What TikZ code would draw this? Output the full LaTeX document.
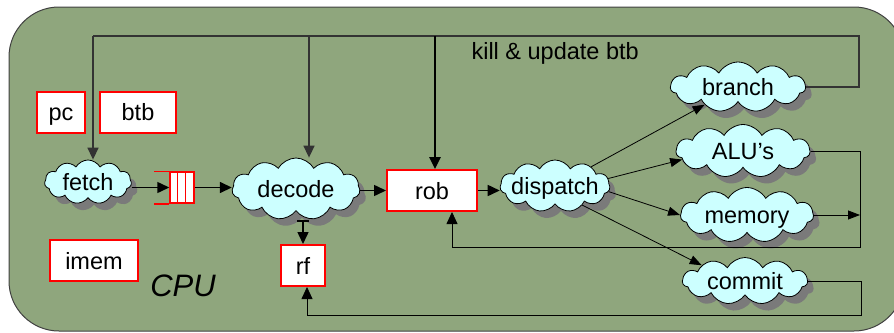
\documentclass[tikz,border=0pt]{standalone}
\usepackage{fontspec}
\setmainfont{Liberation Sans}
\usepackage{xcolor}
\usepackage{tikz}
\usetikzlibrary{shapes.symbols,shadows,arrows.meta,positioning}
\definecolor{cpugreen}{RGB}{143,166,125}
\definecolor{cloudcyan}{RGB}{204,255,255}
\tikzstyle{unit} = [cloud, cloud puffs=11, cloud puff arc=120, cloud ignores aspect, draw=black, line width=0.8pt, fill=cloudcyan, inner sep=0pt, text height=17pt, text depth=0pt, drop shadow={shadow xshift=6pt, shadow yshift=-7pt, fill=black!52, opacity=1}]
\tikzstyle{storage} = [rectangle, draw=red, line width=2pt, fill=white, inner sep=0pt, text height=17pt, text depth=0pt, minimum height=41pt]
\tikzstyle{arrow} = [line width=1.5pt,-{Triangle[length=12pt,width=11pt]}]
\tikzstyle{thinarrow} = [line width=0.8pt,-{Triangle[length=12pt,width=9pt]}]
\tikzstyle{feed} = [line width=0.8pt]

\begin{document}
\begin{tikzpicture}[x=1pt,y=-1pt,every node/.style={font=\fontsize{23.5}{28}\selectfont}]

	\useasboundingbox (0,0) rectangle (894,332);
	\clip (0,0) rectangle (894,332);
	\draw [fill=cpugreen, draw=black!75, line width=1pt, rounded corners=50pt] (9,7) rectangle (904,331);

	\node (pc) [storage, minimum width=48pt] at (61,112) {pc};
	\node (btb) [storage, minimum width=76pt, right=13pt of pc] {btb};
	\node (imem) [storage, minimum width=88pt] at (94,260.5) {imem};
	\node (rob) [storage, minimum width=90pt] at (432,190.5) {rob};
	\node (rf) [storage, minimum width=44pt] at (303,265.5) {rf};
	\node (cpu) at (183,286) {\fontsize{31}{36}\selectfont\itshape CPU};
	\node (kill) [anchor=west] at (468,53) {kill \& update btb};

	\node (fetch) [unit, minimum width=87pt, minimum height=44pt] at (88,182) {\makebox[0pt]{fetch}};
	\node (decode) [unit, minimum width=128pt, minimum height=62pt] at (296,189) {\makebox[0pt]{decode}};
	\node (dispatch) [unit, minimum width=110pt, minimum height=52pt] at (555,186) {\makebox[0pt]{dispatch}};
	\node (branch) [unit, minimum width=135pt, minimum height=50pt] at (738,87) {\makebox[0pt]{branch}};
	\node (alus) [unit, minimum width=134pt, minimum height=53pt] at (743,151) {\makebox[0pt]{ALU’s}};
	\node (memory) [unit, minimum width=133pt, minimum height=55pt] at (747,215) {\makebox[0pt]{memory}};
	\node (commit) [unit, minimum width=125pt, minimum height=47pt] at (745,281) {\makebox[0pt]{commit}};

	\node (queue) [rectangle, draw=red, line width=1.5pt, fill=white, minimum width=24pt, minimum height=31pt, inner sep=0pt] at (182,187.5) {};
	\draw [red, line width=1.5pt] ([xshift=8pt]queue.north west) -- ([xshift=8pt]queue.south west);
	\draw [red, line width=1.5pt] ([xshift=16pt]queue.north west) -- ([xshift=16pt]queue.south west);
	\draw [red, line width=1.5pt] ([xshift=-15pt]queue.north west) -- (queue.north west);
	\draw [red, line width=1.5pt] ([xshift=-15pt]queue.south west) -- (queue.south west);

	\coordinate (tf) at (93,36);
	\coordinate (td) at (309,36);
	\coordinate (tr) at (435,36);
	\coordinate (kr) at (859,36);
	\coordinate (fbr) at (860,247);
	\coordinate (rb) at (452,247);
	\coordinate (cr) at (861,315);
	\coordinate (cl) at (307,315);

	\draw [line width=1.5pt, draw=black!80] (branch.east) -| (kr) -- (tf);
	\draw [arrow, draw=black!80] (tf) -- (tf |- fetch.north);
	\draw [arrow, draw=black!80] (td) -- (td |- decode.north);
	\draw [arrow, line width=2.5pt] (tr) -- (tr |- rob.north);

	\draw [arrow] (fetch.east |- queue) -- (queue.west);
	\draw [arrow] (queue.east) -- (queue.east -| decode.west);
	\draw [arrow] (decode.east |- rob) -- (rob.west);
	\draw [arrow] (rob.east) -- (rob.east -| dispatch.west);
	\draw [line width=1.5pt,{Bar[width=12pt]}-{Triangle[length=12pt,width=11pt]}] ([yshift=-9pt]rf.north |- decode.south) -- (rf.north);

	\draw [thinarrow] (dispatch.28) -- (branch.208);
	\draw [thinarrow] (dispatch.8) -- (alus.188);
	\draw [thinarrow] (dispatch.-6) -- (memory.west);
	\draw [thinarrow] (dispatch.-35) -- (commit.160);

	\draw [feed, -{Triangle[length=12pt,width=11pt]}] (alus.east) -| (fbr) -- (rb) -- (rb |- rob.south);
	\draw [thinarrow] (memory.east) -- (memory.east -| fbr);
	\draw [feed, -{Triangle[length=12pt,width=11pt]}] (commit.east) -| (cr) -- (cl) -- (cl |- rf.south);

\end{tikzpicture}
\end{document}
